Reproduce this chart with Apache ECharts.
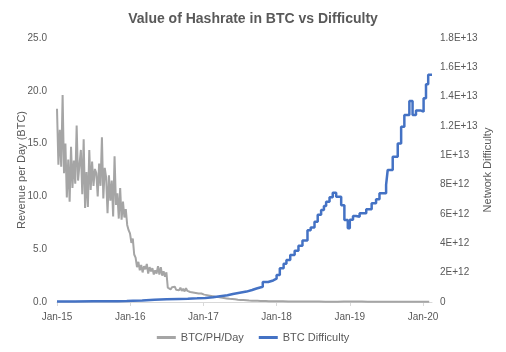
<!DOCTYPE html>
<html>
<head>
<meta charset="utf-8">
<script src="https://cdn.jsdelivr.net/npm/echarts@6/dist/echarts.min.js"></script>
<style>
  html, body { margin: 0; padding: 0; background: #fff; }
  #chart { width: 506px; height: 352px; }
</style>
</head>
<body>
<div id="chart"></div>
<script>
// x axis ticks (years since Jan 2015)
var xTickLabels = ["Jan-15", "Jan-16", "Jan-17", "Jan-18", "Jan-19", "Jan-20"];

// BTC/PH/Day: weekly readings from 2015-01-01 to end of 2017
var grayWeeklyStart = "2015-01-01";
var grayWeekly = [
  // 2015
  18.3, 13.0, 16.3, 12.8, 19.6, 12.2, 15.0, 9.9, 13.5, 9.5,
  14.7, 10.8, 13.4, 11.2, 16.7, 11.5, 13.0, 14.4, 10.2, 15.4,
  8.9, 12.3, 9.0, 14.4, 10.6, 13.3, 11.0, 12.6, 12.2, 10.0,
  13.1, 11.0, 15.6, 9.8, 12.7, 11.8, 8.4, 12.0, 9.6, 11.5,
  8.1, 13.8, 9.2, 10.3, 7.9, 10.8, 7.8, 9.5, 8.0, 8.8,
  7.3, 6.8,
  // 2016
  6.5, 5.6, 6.0, 4.5, 4.2, 3.3, 3.8, 3.0, 3.5, 2.8,
  3.4, 3.1, 3.6, 2.7, 3.3, 2.9, 3.2, 2.6, 3.0, 2.7,
  3.4, 2.6, 3.3, 2.5, 2.9, 2.4, 2.8,
  1.35, 1.5, 1.2, 1.4, 1.25, 1.45, 1.15, 1.3, 1.1, 1.35,
  1.05, 1.25, 1.0, 1.3, 1.05, 1.15, 0.95, 1.1, 0.9, 1.0,
  0.85, 0.95, 0.8, 0.9, 0.8,
  // 2017
  0.85, 0.7, 0.8, 0.65, 0.75, 0.6, 0.7, 0.55, 0.62, 0.5,
  0.58, 0.48, 0.52, 0.42, 0.48, 0.38, 0.44, 0.34, 0.4, 0.3,
  0.35, 0.28, 0.32, 0.25, 0.28, 0.22, 0.25, 0.2, 0.22, 0.18,
  0.2, 0.16, 0.18, 0.14, 0.16, 0.13, 0.15, 0.12, 0.13, 0.11,
  0.12, 0.1, 0.11, 0.09, 0.1, 0.09, 0.09, 0.08, 0.085, 0.075,
  0.08, 0.07
];

// BTC/PH/Day: monthly readings from 2018-01 to 2020-02
var grayMonthlyStart = "2018-01-01";
var grayMonthly = [
  0.07, 0.06, 0.05, 0.05, 0.05, 0.045, 0.04, 0.04, 0.035, 0.035, 0.035, 0.04,
  0.045, 0.04, 0.04, 0.035, 0.03, 0.03, 0.025, 0.025, 0.022, 0.02, 0.02, 0.02,
  0.02, 0.018
];

// BTC Difficulty (step changes)
var diffDates = [
  "2015-01-01", "2015-04-01", "2015-07-01", "2015-09-01", "2015-11-01", "2015-12-15",
  "2016-01-15", "2016-03-01", "2016-05-01", "2016-07-01", "2016-09-01", "2016-10-15",
  "2016-12-01", "2017-01-10", "2017-02-18", "2017-03-25", "2017-05-01", "2017-05-28",
  "2017-07-01", "2017-08-04", "2017-09-01", "2017-09-23", "2017-10-24", "2017-11-20",
  "2017-12-15", "2018-01-01", "2018-01-17", "2018-02-05", "2018-02-19", "2018-03-10",
  "2018-04-01", "2018-04-20", "2018-05-10", "2018-06-04", "2018-06-20", "2018-07-09",
  "2018-07-25", "2018-08-11", "2018-08-25", "2018-09-05", "2018-09-22", "2018-10-08",
  "2018-10-25", "2018-11-08", "2018-11-19", "2018-12-05", "2018-12-22", "2019-01-01",
  "2019-01-17", "2019-02-01", "2019-02-19", "2019-03-24", "2019-04-20", "2019-05-12",
  "2019-05-29", "2019-07-01", "2019-07-09", "2019-08-03", "2019-08-28", "2019-09-14",
  "2019-09-30", "2019-10-25", "2019-11-10", "2019-11-27", "2019-12-22", "2020-01-04",
  "2020-01-16", "2020-01-27", "2020-02-15"
];
var diffValues = [
  4.0e10, 4.7e10, 5.0e10, 5.9e10, 7.6e10, 9.3e10,
  1.1e11, 1.6e11, 1.9e11, 2.1e11, 2.2e11, 2.5e11,
  2.8e11, 3.2e11, 3.9e11, 4.6e11, 5.5e11, 6.3e11,
  7.1e11, 8.2e11, 9.2e11, 1.04e12, 1.36e12, 1.47e12,
  1.59e12, 1.84e12, 2.3e12, 2.6e12, 2.86e12, 3.2e12,
  3.5e12, 3.84e12, 4.2e12, 4.9e12, 5.08e12, 5.47e12,
  5.95e12, 6.27e12, 6.55e12, 6.84e12, 7.15e12, 7.45e12,
  7.18e12, 7.18e12, 6.6e12, 5.59e12, 5.02e12, 5.6e12,
  5.86e12, 5.81e12, 6.05e12, 6.32e12, 6.73e12, 7.0e12,
  7.41e12, 7.98e12, 9.0e12, 9.9e12, 10.8e12, 11.95e12,
  12.75e12, 13.7e12, 12.75e12, 13.05e12, 12.98e12, 13.9e12,
  14.84e12, 15.5e12, 15.5e12
];

var DAY = 86400000;

function parseDate(s) {
  var p = s.split("-");
  return Date.UTC(+p[0], +p[1] - 1, +p[2]);
}

// fractional years since Jan 2015, so each Jan 1 is a whole number
function toYears(ms) {
  var y = new Date(ms).getUTCFullYear();
  var a = Date.UTC(y, 0, 1);
  var b = Date.UTC(y + 1, 0, 1);
  return y - 2015 + (ms - a) / (b - a);
}

function sciLabel(v) {
  if (v === 0) return "0";
  var exp = Math.floor(Math.log10(v) + 1e-9);
  var mant = +(v / Math.pow(10, exp)).toFixed(1);
  return mant + "E+" + exp;
}

var grayData = [];
var t0 = parseDate(grayWeeklyStart);
grayWeekly.forEach(function (v, i) {
  grayData.push([toYears(t0 + i * 7 * DAY), v]);
});
var m0 = parseDate(grayMonthlyStart);
grayMonthly.forEach(function (v, i) {
  var d = new Date(m0);
  grayData.push([toYears(Date.UTC(d.getUTCFullYear(), d.getUTCMonth() + i, 1)), v]);
});

var diffData = diffDates.map(function (s, i) {
  return [toYears(parseDate(s)), diffValues[i]];
});

var textColor = "#595959";
var font = "Liberation Sans, Arial, sans-serif";

var chart = echarts.init(document.getElementById("chart"));
chart.setOption({
  animation: false,
  textStyle: { fontFamily: font },
  title: {
    text: "Value of Hashrate in BTC vs Difficulty",
    left: "center",
    top: 7,
    textStyle: { fontSize: 14, fontWeight: "bold", color: textColor, fontFamily: font }
  },
  legend: {
    bottom: 4,
    left: "center",
    icon: "rect",
    itemWidth: 19,
    itemHeight: 3,
    itemGap: 15,
    textStyle: { fontSize: 11, color: textColor, fontFamily: font },
    data: ["BTC/PH/Day", "BTC Difficulty"]
  },
  grid: { left: 57, right: 74, top: 38, bottom: 50 },
  xAxis: {
    type: "value",
    min: 0,
    max: toYears(parseDate("2020-02-15")),
    interval: 1,
    splitLine: { show: false },
    axisLine: { lineStyle: { color: "#D9D9D9" } },
    axisTick: { show: true, length: 4, lineStyle: { color: "#D9D9D9" }, customValues: [0, 1, 2, 3, 4, 5] },
    axisLabel: {
      color: textColor,
      fontSize: 10,
      margin: 10,
      customValues: [0, 1, 2, 3, 4, 5],
      formatter: function (v) {
        return xTickLabels[Math.round(v)] || "";
      }
    }
  },
  yAxis: [
    {
      type: "value",
      min: 0,
      max: 25,
      interval: 5,
      name: "Revenue per Day (BTC)",
      nameLocation: "middle",
      nameRotate: 90,
      nameGap: 30,
      nameMoveOverlap: false,
      nameTextStyle: { fontSize: 11, color: textColor, fontFamily: font },
      splitLine: { show: false },
      axisLine: { show: false },
      axisTick: { show: false },
      axisLabel: {
        color: textColor,
        fontSize: 10,
        margin: 10,
        formatter: function (v) { return v.toFixed(1); }
      }
    },
    {
      type: "value",
      min: 0,
      max: 1.8e13,
      interval: 2e12,
      position: "right",
      name: "Network Difficulty",
      nameLocation: "middle",
      nameRotate: 90,
      nameGap: 50,
      nameMoveOverlap: false,
      nameTextStyle: { fontSize: 11, color: textColor, fontFamily: font },
      splitLine: { show: false },
      axisLine: { show: false },
      axisTick: { show: false },
      axisLabel: {
        color: textColor,
        fontSize: 10,
        margin: 8,
        formatter: sciLabel
      }
    }
  ],
  series: [
    {
      name: "BTC/PH/Day",
      type: "line",
      yAxisIndex: 0,
      data: grayData,
      showSymbol: false,
      symbol: "none",
      lineStyle: { color: "#A5A5A5", width: 2 },
      itemStyle: { color: "#A5A5A5" }
    },
    {
      name: "BTC Difficulty",
      type: "line",
      yAxisIndex: 1,
      step: "end",
      data: diffData,
      showSymbol: false,
      symbol: "none",
      lineStyle: { color: "#4472C4", width: 2.5 },
      itemStyle: { color: "#4472C4" }
    }
  ]
});
</script>
</body>
</html>
